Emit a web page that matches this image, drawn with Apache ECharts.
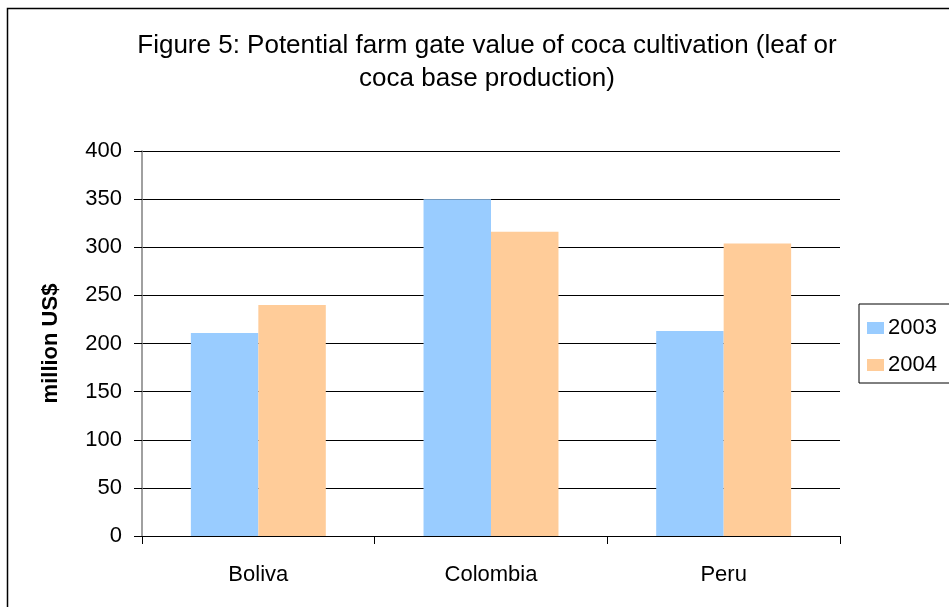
<!DOCTYPE html>
<html>
<head>
<meta charset="utf-8">
<script src="https://cdn.jsdelivr.net/npm/echarts@6/dist/echarts.min.js"></script>
<style>
  html, body { margin: 0; padding: 0; background: #fff; }
  #chart { width: 949px; height: 607px; }
</style>
</head>
<body>
<div id="chart"></div>
<script>
// Potential farm gate value of coca cultivation, million US$
const countries = ['Boliva', 'Colombia', 'Peru'];
const years = ['2003', '2004'];
const values2003 = [211, 350, 213];
const values2004 = [240, 316, 304];
const yTicks = { min: 0, max: 400, interval: 50 };

const titleLines = [
  'Figure 5: Potential farm gate value of coca cultivation (leaf or',
  'coca base production)'
];

const chart = echarts.init(document.getElementById('chart'), null, { renderer: 'canvas' });

const font = '"Liberation Sans", Arial, sans-serif';

chart.setOption({
  animation: false,
  backgroundColor: '#fff',
  textStyle: { fontFamily: font },
  graphic: [
    {
      type: 'rect',
      shape: { x: 7.5, y: 8.5, width: 980, height: 640 },
      style: { fill: 'none', stroke: '#000', lineWidth: 1.5 },
      silent: true
    },
    {
      type: 'text',
      x: 487, y: 29,
      silent: true,
      style: {
        text: titleLines.join('\n'),
        fontFamily: font, fontSize: 26, lineHeight: 33,
        fill: '#000', align: 'center', verticalAlign: 'top'
      }
    }
  ],
  grid: { left: 142, top: 151, right: 109, bottom: 71, containLabel: false },
  legend: {
    orient: 'vertical',
    left: 859, top: 304,
    data: years,
    icon: 'rect',
    itemWidth: 17, itemHeight: 12,
    itemGap: 15,
    padding: [13, 60, 7, 8],
    borderColor: '#000', borderWidth: 1,
    textStyle: { fontFamily: font, fontSize: 22, color: '#000', padding: [0, 0, 0, -1] }
  },
  xAxis: {
    type: 'category',
    data: countries,
    axisLine: { lineStyle: { color: '#000', width: 1 } },
    axisTick: { show: true, length: 8, lineStyle: { color: '#000' } },
    axisLabel: { fontFamily: font, fontSize: 22, color: '#000', margin: 28 },
    splitLine: { show: false }
  },
  yAxis: {
    type: 'value',
    min: yTicks.min, max: yTicks.max, interval: yTicks.interval,
    name: 'million US$',
    nameLocation: 'middle',
    nameGap: 80,
    nameRotate: 90,
    nameTextStyle: { fontFamily: font, fontSize: 22, fontWeight: 'bold', color: '#000' },
    axisLine: { show: true, lineStyle: { color: '#808080', width: 1.5 } },
    axisTick: { show: true, length: 8, lineStyle: { color: '#000' } },
    axisLabel: { fontFamily: font, fontSize: 22, color: '#000', margin: 20 },
    splitLine: { show: true, lineStyle: { color: '#000', width: 1 } }
  },
  series: [
    {
      name: years[0], type: 'bar', data: values2003,
      itemStyle: { color: '#99ccff' },
      barGap: '0%', barCategoryGap: '42%'
    },
    {
      name: years[1], type: 'bar', data: values2004,
      itemStyle: { color: '#ffcc99' },
      barGap: '0%', barCategoryGap: '42%'
    }
  ]
});
</script>
</body>
</html>
